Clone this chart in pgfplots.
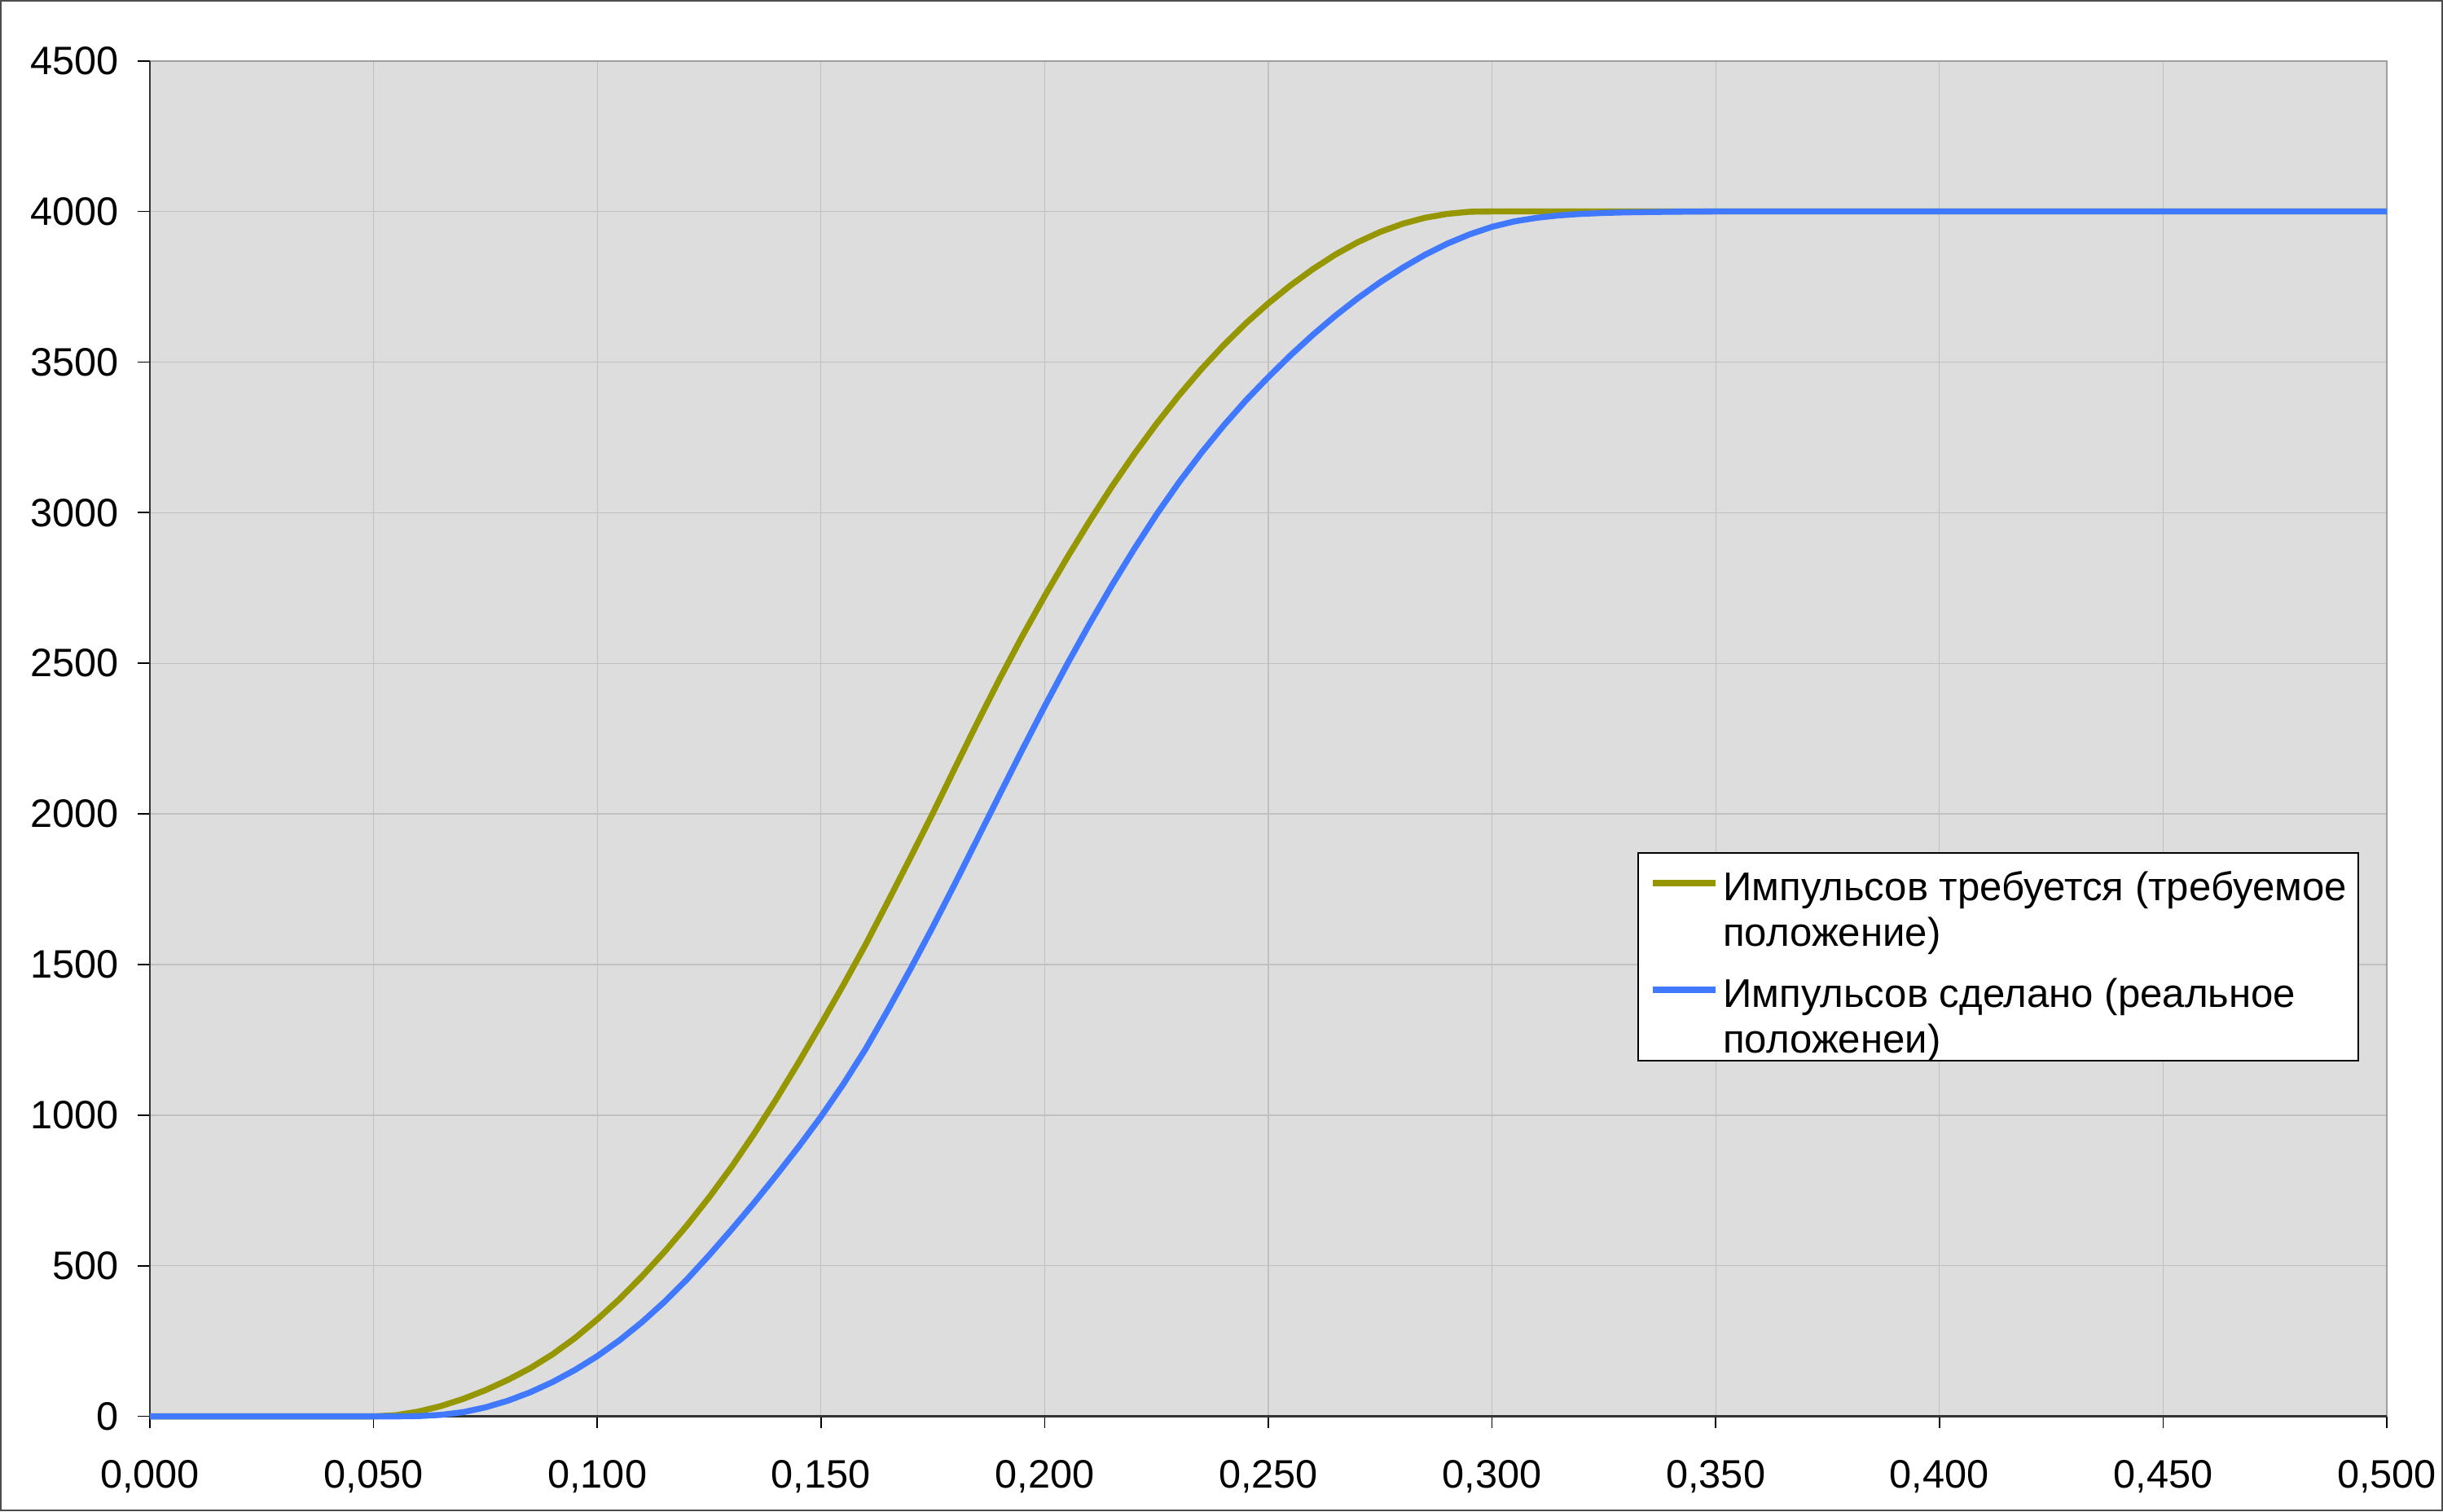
\documentclass[border=0pt]{standalone}
\usepackage{pgfplots}
\pgfplotsset{compat=1.18}
\usepackage{fontspec}
\setmainfont{Liberation Sans}
\definecolor{olivec}{RGB}{150,150,0}
\definecolor{bluec}{RGB}{64,121,255}
\definecolor{bgc}{RGB}{221,221,221}
\definecolor{gridc}{RGB}{192,192,192}
\newcommand{\chartfont}{\fontsize{7.3}{8.3}\selectfont}
\newcommand{\legfont}{\fontsize{7.37}{8.3}\selectfont}
\begin{document}
\begin{tikzpicture}
\begin{axis}[
  name=ax,
  scale only axis,
  width=411.9pt, height=249.6pt,
  xmin=0, xmax=0.5, ymin=0, ymax=4500,
  xtick={0,0.05,0.1,0.15,0.2,0.25,0.3,0.35,0.4,0.45,0.5},
  ytick={0,500,1000,1500,2000,2500,3000,3500,4000,4500},
  grid=major,
  major grid style={gridc, line width=0.2pt},
  axis line style={draw=none},
  axis background/.style={fill=bgc},
  tick align=outside, tick pos=left,
  major tick length=2.2pt,
  tick style={black, line width=0.25pt},
  clip=false,
  font=\chartfont,
  ticklabel style={font=\chartfont},
  /pgf/number format/assume math mode=true,
  xticklabel style={yshift=-2.3pt, /pgf/number format/.cd, fixed, fixed zerofill, precision=3, use comma},
  yticklabel style={/pgf/number format/.cd, 1000 sep={}},
  legend cell align=left,
  legend style={at={(0.665,0.4162)}, anchor=north west, fill=white, draw=black, line width=0.25pt,
    inner xsep=2.15pt, inner ysep=0pt, row sep=1.0pt, column sep=0.8pt,
    font=\legfont, nodes={inner sep=0pt}, cells={align=left, inner sep=0pt}},
  legend image code/.code={\path (0pt,-6.6pt) (0pt,10.5pt); \draw[#1] (0pt,5.5pt) -- (11.6pt,5.5pt);},
]
\draw[gray!75, line width=0.35pt] (rel axis cs:0,1) -- (rel axis cs:1,1) -- (rel axis cs:1,0);
\draw[black!80, line width=0.35pt] (rel axis cs:0,1) -- (rel axis cs:0,0) -- (rel axis cs:1,0);
\addplot[olivec, line width=1.1pt] coordinates {
(0,0) (0.050,0) (0.055,4) (0.060,16) (0.065,34) (0.070,58) (0.075,87) (0.080,121) (0.085,160)
(0.090,206) (0.095,260) (0.100,322) (0.105,390) (0.110,465) (0.115,546) (0.120,633) (0.125,727)
(0.130,828) (0.135,937) (0.140,1053) (0.145,1175) (0.150,1302) (0.155,1432) (0.160,1567)
(0.165,1710) (0.170,1855) (0.175,2002) (0.180,2154) (0.185,2304) (0.190,2450) (0.195,2590)
(0.200,2723) (0.205,2850) (0.210,2971) (0.215,3086) (0.220,3194) (0.225,3295) (0.230,3389)
(0.235,3476) (0.240,3556) (0.245,3629) (0.250,3695) (0.255,3755) (0.260,3809) (0.265,3857)
(0.270,3898) (0.275,3932) (0.280,3959) (0.285,3979) (0.290,3992) (0.295,3999) (0.300,4000)
(0.350,4000) (0.500,4000)};
\addlegendentry{Импульсов требуется (требуемое\\положение)}
\addplot[bluec, line width=1.1pt] coordinates {
(0,0) (0.055,0) (0.060,1) (0.065,5) (0.070,14) (0.075,30) (0.080,52) (0.085,80) (0.090,114)
(0.095,154) (0.100,200) (0.105,253) (0.110,313) (0.115,380) (0.120,454) (0.125,535) (0.130,620)
(0.135,708) (0.140,800) (0.145,895) (0.150,995) (0.155,1103) (0.160,1220) (0.165,1350)
(0.170,1485) (0.175,1625) (0.180,1770) (0.185,1918) (0.190,2066) (0.195,2213) (0.200,2357)
(0.205,2496) (0.210,2630) (0.215,2758) (0.220,2879) (0.225,2994) (0.230,3100) (0.235,3198)
(0.240,3289) (0.245,3373) (0.250,3450) (0.255,3523) (0.260,3591) (0.265,3654) (0.270,3712)
(0.275,3765) (0.280,3813) (0.285,3856) (0.290,3893) (0.295,3924) (0.300,3949) (0.305,3967)
(0.310,3979) (0.315,3987) (0.320,3992) (0.325,3995) (0.330,3997) (0.335,3998) (0.340,3999)
(0.350,4000) (0.500,4000)};
\addlegendentry{Импульсов сделано (реальное\\положенеи)}
\end{axis}
\pgfresetboundingbox
\useasboundingbox ([xshift=-27.6pt,yshift=-17.5pt]ax.south west) rectangle ([xshift=10.35pt,yshift=11.2pt]ax.north east);
\draw[black!70, line width=0.3pt] ([xshift=-27.45pt,yshift=-17.35pt]ax.south west) rectangle ([xshift=10.2pt,yshift=11.05pt]ax.north east);
\end{tikzpicture}
\end{document}
